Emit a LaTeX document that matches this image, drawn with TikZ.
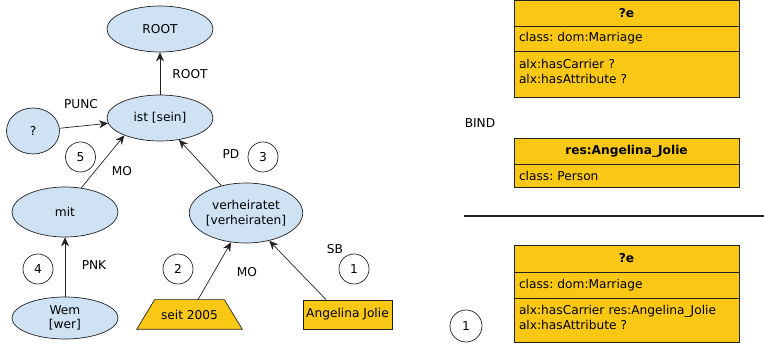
\documentclass[tikz,border=0pt]{standalone}
\usepackage{fontspec}
\setmainfont{DejaVu Sans}
\usetikzlibrary{shapes.geometric,arrows.meta}
\definecolor{nodeblue}{HTML}{CFE2F3}
\definecolor{boxyellow}{HTML}{F9C814}
\definecolor{edgegray}{HTML}{222222}
\frenchspacing
\begin{document}
\begin{tikzpicture}[x=1pt,y=-1pt,line width=0.7pt,
  every node/.style={font=\fontsize{12.2}{14.7}\selectfont},
  tok/.style={ellipse,draw=edgegray,fill=nodeblue,minimum width=106pt,
    minimum height=46pt,inner sep=0pt,align=center},
  numc/.style={circle,draw=edgegray,minimum size=30pt,inner sep=0pt},
  lab/.style={inner sep=0pt},
  dep/.style={draw=edgegray,-{Stealth[length=9pt,width=8pt]}},
  hdr/.style={rectangle,draw=edgegray,fill=boxyellow,minimum width=225pt,
    inner sep=0pt,font=\fontsize{12.2}{14.7}\selectfont\bfseries},
  row/.style={rectangle,draw=edgegray,fill=boxyellow,text width=215pt,
    inner xsep=5pt,inner ysep=0pt,align=left},
]
\useasboundingbox (0,0) rectangle (764,344);

% dependency tree
\node[tok] (root) at (160,29) {ROOT};
\node[tok] (ist) at (160,118) {ist [sein]};
\node[tok,minimum width=53pt] (q) at (33,131) {?};
\node[tok,minimum height=50pt] (mit) at (65,212) {mit};
\node[tok,minimum height=60pt] (verh) at (246,213) {verheiratet\\{}[verheiraten]};
\node[tok,minimum height=42pt] (wem) at (65,318) {Wem\\{}[wer]};

% trapezoid token: outline drawn from the anchors of its text node
\node[minimum width=105pt,minimum height=29pt,inner sep=0pt]
  (seit) at (189.5,314.5) {\phantom{seit 2005}};
\fill[boxyellow,draw=edgegray] (seit.south west) -- (seit.south east)
  -- ([xshift=-18pt]seit.north east) -- ([xshift=18pt]seit.north west) -- cycle;
\node at (seit.center) {seit 2005};

\node[rectangle,draw=edgegray,fill=boxyellow,minimum width=89pt,
  minimum height=29pt,inner sep=0pt] (aj) at (347.5,314.5) {Angelina Jolie};

\draw[dep] (ist) -- (root);
\draw[dep] (q) -- (ist);
\draw[dep] (mit.56) -- (ist.206);
\draw[dep] (verh.132) -- (ist.311);
\draw[dep] (wem) -- (mit);
\draw[dep] ([xshift=8.5pt]seit.north) -- (verh.243);
\draw[dep] ([xshift=-21.5pt]aj.north) -- (verh.310);

% edge labels
\node[lab] (lroot) at (190,74) {ROOT};
\node[lab] (lpunc) at (81,104) {PUNC};
\node[lab] (lpd) at (231,154) {PD};
\node[lab] (lmo1) at (122,171) {MO};
\node[lab] (lpnk) at (94,265) {PNK};
\node[lab] (lmo2) at (247,272) {MO};
\node[lab] (lsb) at (335,249) {SB};

% step numbers
\node[numc] (n5) at (80.5,157) {5};
\node[numc] (n3) at (263,157) {3};
\node[numc] (n4) at (38,269) {4};
\node[numc] (n2) at (178,269) {2};
\node[numc] (n1) at (354,269) {1};
\node[numc,minimum size=32pt] (n1b) at (466,326) {1};

% semantic frames
\node[hdr,minimum height=26pt] (e1h) at (626.5,13) {?e};
\node[row,minimum height=25pt] (e1c) at (626.5,38.5) {class: dom:Marriage};
\node[row,minimum height=46pt,text depth=20pt] (e1a) at (626.5,74) {alx:hasCarrier ?\\alx:hasAttribute ?};

\node[lab] (bind) at (480,123) {BIND};

\node[hdr,minimum height=26pt] (ajh) at (626.5,151) {res:Angelina\_Jolie};
\node[row,minimum height=23pt] (ajc) at (626.5,175.5) {class: Person};

\coordinate (rl) at (464,216);
\coordinate (rr) at (764,216);
\draw[edgegray,line width=1.6pt] (rl) -- (rr);

\node[hdr,minimum height=27pt] (e2h) at (626.5,258.5) {?e};
\node[row,minimum height=26pt] (e2c) at (626.5,285) {class: dom:Marriage};
\node[row,minimum height=44pt,text depth=20pt] (e2a) at (626.5,320) {alx:hasCarrier res:Angelina\_Jolie\\alx:hasAttribute ?};
\end{tikzpicture}
\end{document}
